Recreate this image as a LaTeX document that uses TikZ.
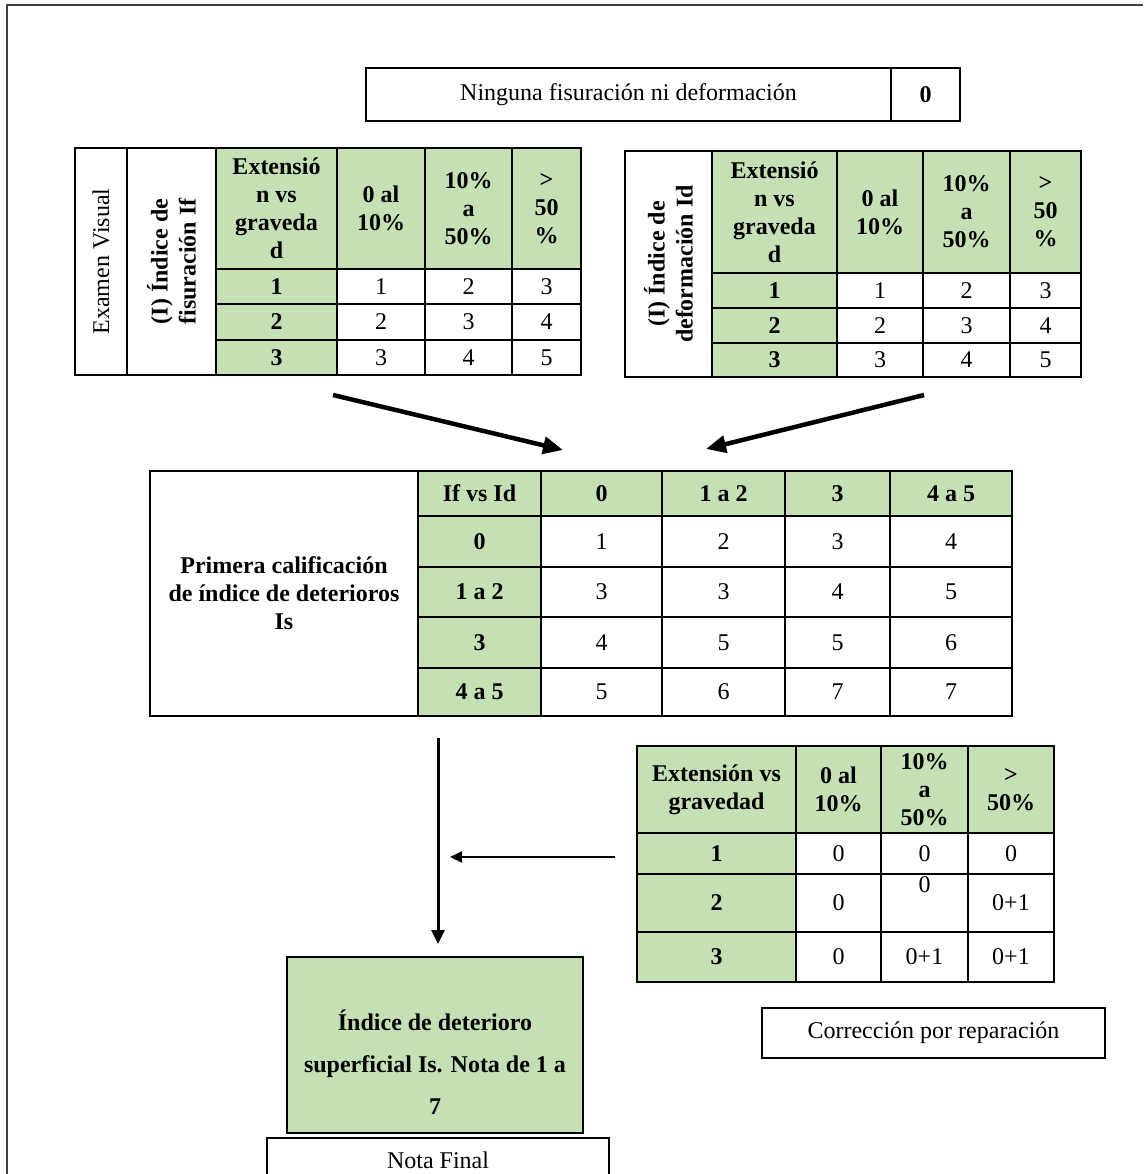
\documentclass[tikz,border=0pt]{standalone}
\usepackage{fontspec}
\setmainfont{Liberation Serif}
\usetikzlibrary{arrows.meta}
\definecolor{verde}{HTML}{C5E0B4}

\begin{document}
\begin{tikzpicture}[x=1pt, y=-1pt,
  every node/.style={font=\fontsize{24}{28}\selectfont},
  tam/.style 2 args={minimum width=#1pt, minimum height=#2pt},
  celda/.style={draw, line width=2pt, inner sep=0pt, align=center},
  negrita/.style={font=\fontsize{24}{28}\selectfont\bfseries},
  cab/.style={celda, fill=verde, negrita},
  flecha/.style={-{Triangle[length=20pt, width=17pt]}, line width=4.5pt}]

  \useasboundingbox (0,0) rectangle (1143,1174);
  \draw[line width=1.5pt, black!75] (7,1174) -- (7,5) -- (1143,5);

  % fila de arriba
  \node[celda, tam={525}{53}] (ning) at (628.5,94.5) {Ninguna fisuración ni deformación};
  \node[celda, negrita, tam={69}{53}] (ning0) at (925.5,94.5) {0};

  % indice de fisuracion
  \node[celda, rotate=90, tam={227}{52}] (exam) at (101,261.5) {Examen Visual};
  \node[celda, negrita, rotate=90, tam={227}{89}] (indF) at (171.5,261.5) {(I) Índice de\\fisuración If};
  \node[cab, tam={121}{121}] (fE) at (276.5,208.5) {Extensió\\n vs\\graveda\\d};
  \node[cab, tam={88}{121}] (fc1) at (381,208.5) {0 al\\10\%};
  \node[cab, tam={87}{121}] (fc2) at (468.5,208.5) {10\%\\a\\50\%};
  \node[cab, tam={69}{121}] (fc3) at (546.5,208.5) {>\\50\\\%};
  \node[cab, tam={121}{35}] (fr1) at (276.5,286.5) {1};
  \node[celda, tam={88}{35}] (f11) at (381,286.5) {1};
  \node[celda, tam={87}{35}] (f12) at (468.5,286.5) {2};
  \node[celda, tam={69}{35}] (f13) at (546.5,286.5) {3};
  \node[cab, tam={121}{36}] (fr2) at (276.5,322) {2};
  \node[celda, tam={88}{36}] (f21) at (381,322) {2};
  \node[celda, tam={87}{36}] (f22) at (468.5,322) {3};
  \node[celda, tam={69}{36}] (f23) at (546.5,322) {4};
  \node[cab, tam={121}{35}] (fr3) at (276.5,357.5) {3};
  \node[celda, tam={88}{35}] (f31) at (381,357.5) {3};
  \node[celda, tam={87}{35}] (f32) at (468.5,357.5) {4};
  \node[celda, tam={69}{35}] (f33) at (546.5,357.5) {5};

  % indice de deformacion
  \node[celda, negrita, rotate=90, tam={226}{87}] (indD) at (668.5,264) {(I) Índice de\\deformación Id};
  \node[cab, tam={125}{122}] (dE) at (774.5,212) {Extensió\\n vs\\graveda\\d};
  \node[cab, tam={86}{122}] (dc1) at (880,212) {0 al\\10\%};
  \node[cab, tam={87}{122}] (dc2) at (966.5,212) {10\%\\a\\50\%};
  \node[cab, tam={71}{122}] (dc3) at (1045.5,212) {>\\50\\\%};
  \node[cab, tam={125}{35}] (dr1) at (774.5,290.5) {1};
  \node[celda, tam={86}{35}] (d11) at (880,290.5) {1};
  \node[celda, tam={87}{35}] (d12) at (966.5,290.5) {2};
  \node[celda, tam={71}{35}] (d13) at (1045.5,290.5) {3};
  \node[cab, tam={125}{35}] (dr2) at (774.5,325.5) {2};
  \node[celda, tam={86}{35}] (d21) at (880,325.5) {2};
  \node[celda, tam={87}{35}] (d22) at (966.5,325.5) {3};
  \node[celda, tam={71}{35}] (d23) at (1045.5,325.5) {4};
  \node[cab, tam={125}{34}] (dr3) at (774.5,360) {3};
  \node[celda, tam={86}{34}] (d31) at (880,360) {3};
  \node[celda, tam={87}{34}] (d32) at (966.5,360) {4};
  \node[celda, tam={71}{34}] (d33) at (1045.5,360) {5};

  \coordinate (fa) at (333,395);
  \coordinate (fb) at (563,450);
  \coordinate (da) at (924,395);
  \coordinate (db) at (706,449);
  \draw[flecha] (fa) -- (fb);
  \draw[flecha] (da) -- (db);

  % primera calificacion
  \node[celda, negrita, tam={268}{245}] (prim) at (284,593.5) {Primera calificación\\de índice de deterioros\\Is};
  \node[cab, tam={123}{45}] (mIf) at (479.5,493.5) {If vs Id};
  \node[cab, tam={121}{45}] (mc0) at (601.5,493.5) {0};
  \node[cab, tam={123}{45}] (mc1) at (723.5,493.5) {1 a 2};
  \node[cab, tam={105}{45}] (mc2) at (837.5,493.5) {3};
  \node[cab, tam={122}{45}] (mc3) at (951,493.5) {4 a 5};
  \node[cab, tam={123}{51}] (mr0) at (479.5,541.5) {0};
  \node[celda, tam={121}{51}] (m01) at (601.5,541.5) {1};
  \node[celda, tam={123}{51}] (m02) at (723.5,541.5) {2};
  \node[celda, tam={105}{51}] (m03) at (837.5,541.5) {3};
  \node[celda, tam={122}{51}] (m04) at (951,541.5) {4};
  \node[cab, tam={123}{50}] (mr1) at (479.5,592) {1 a 2};
  \node[celda, tam={121}{50}] (m11) at (601.5,592) {3};
  \node[celda, tam={123}{50}] (m12) at (723.5,592) {3};
  \node[celda, tam={105}{50}] (m13) at (837.5,592) {4};
  \node[celda, tam={122}{50}] (m14) at (951,592) {5};
  \node[cab, tam={123}{51}] (mr2) at (479.5,642.5) {3};
  \node[celda, tam={121}{51}] (m21) at (601.5,642.5) {4};
  \node[celda, tam={123}{51}] (m22) at (723.5,642.5) {5};
  \node[celda, tam={105}{51}] (m23) at (837.5,642.5) {5};
  \node[celda, tam={122}{51}] (m24) at (951,642.5) {6};
  \node[cab, tam={123}{48}] (mr3) at (479.5,692) {4 a 5};
  \node[celda, tam={121}{48}] (m31) at (601.5,692) {5};
  \node[celda, tam={123}{48}] (m32) at (723.5,692) {6};
  \node[celda, tam={105}{48}] (m33) at (837.5,692) {7};
  \node[celda, tam={122}{48}] (m34) at (951,692) {7};

  % correccion por reparacion
  \node[cab, tam={159}{87}] (cE) at (716.5,789.5) {Extensión vs\\gravedad};
  \node[cab, tam={85}{87}] (cc1) at (838.5,789.5) {0 al\\10\%};
  \node[cab, tam={87}{87}] (cc2) at (924.5,789.5) {10\%\\a\\50\%};
  \node[cab, tam={86}{87}] (cc3) at (1011,789.5) {>\\50\%};
  \node[cab, tam={159}{41}] (cr1) at (716.5,853.5) {1};
  \node[celda, tam={85}{41}] (c11) at (838.5,853.5) {0};
  \node[celda, tam={87}{41}] (c12) at (924.5,853.5) {0};
  \node[celda, tam={86}{41}] (c13) at (1011,853.5) {0};
  \node[cab, tam={159}{58}] (cr2) at (716.5,903) {2};
  \node[celda, tam={85}{58}] (c21) at (838.5,903) {0};
  \node[celda, tam={87}{58}] (c22) at (924.5,903) {0\\\strut};
  \node[celda, tam={86}{58}] (c23) at (1011,903) {0+1};
  \node[cab, tam={159}{50}] (cr3) at (716.5,957) {3};
  \node[celda, tam={85}{50}] (c31) at (838.5,957) {0};
  \node[celda, tam={87}{50}] (c32) at (924.5,957) {0+1};
  \node[celda, tam={86}{50}] (c33) at (1011,957) {0+1};
  \node[celda, tam={343}{50}] (corr) at (933.5,1033) {Corrección por reparación};

  % nota final
  \node[cab, tam={296}{176}, font=\fontsize{24}{42}\selectfont\bfseries] (ind) at (435,1045)
    {\rule{0pt}{55pt}Índice de deterioro\\superficial Is. Nota de 1 a\\7};
  \node[celda, tam={342}{44}] (final) at (438,1160) {Nota Final};

  \coordinate (sa) at (438,738);
  \coordinate (ca) at (615,857);
  \coordinate (cb) at (450,857);
  \draw[-{Triangle[length=14pt, width=13pt]}, line width=3pt, shorten >=12pt] (sa) -- (sa |- ind.north);
  \draw[-{Triangle[length=12pt, width=11pt]}, line width=2pt] (ca) -- (cb);
\end{tikzpicture}
\end{document}
